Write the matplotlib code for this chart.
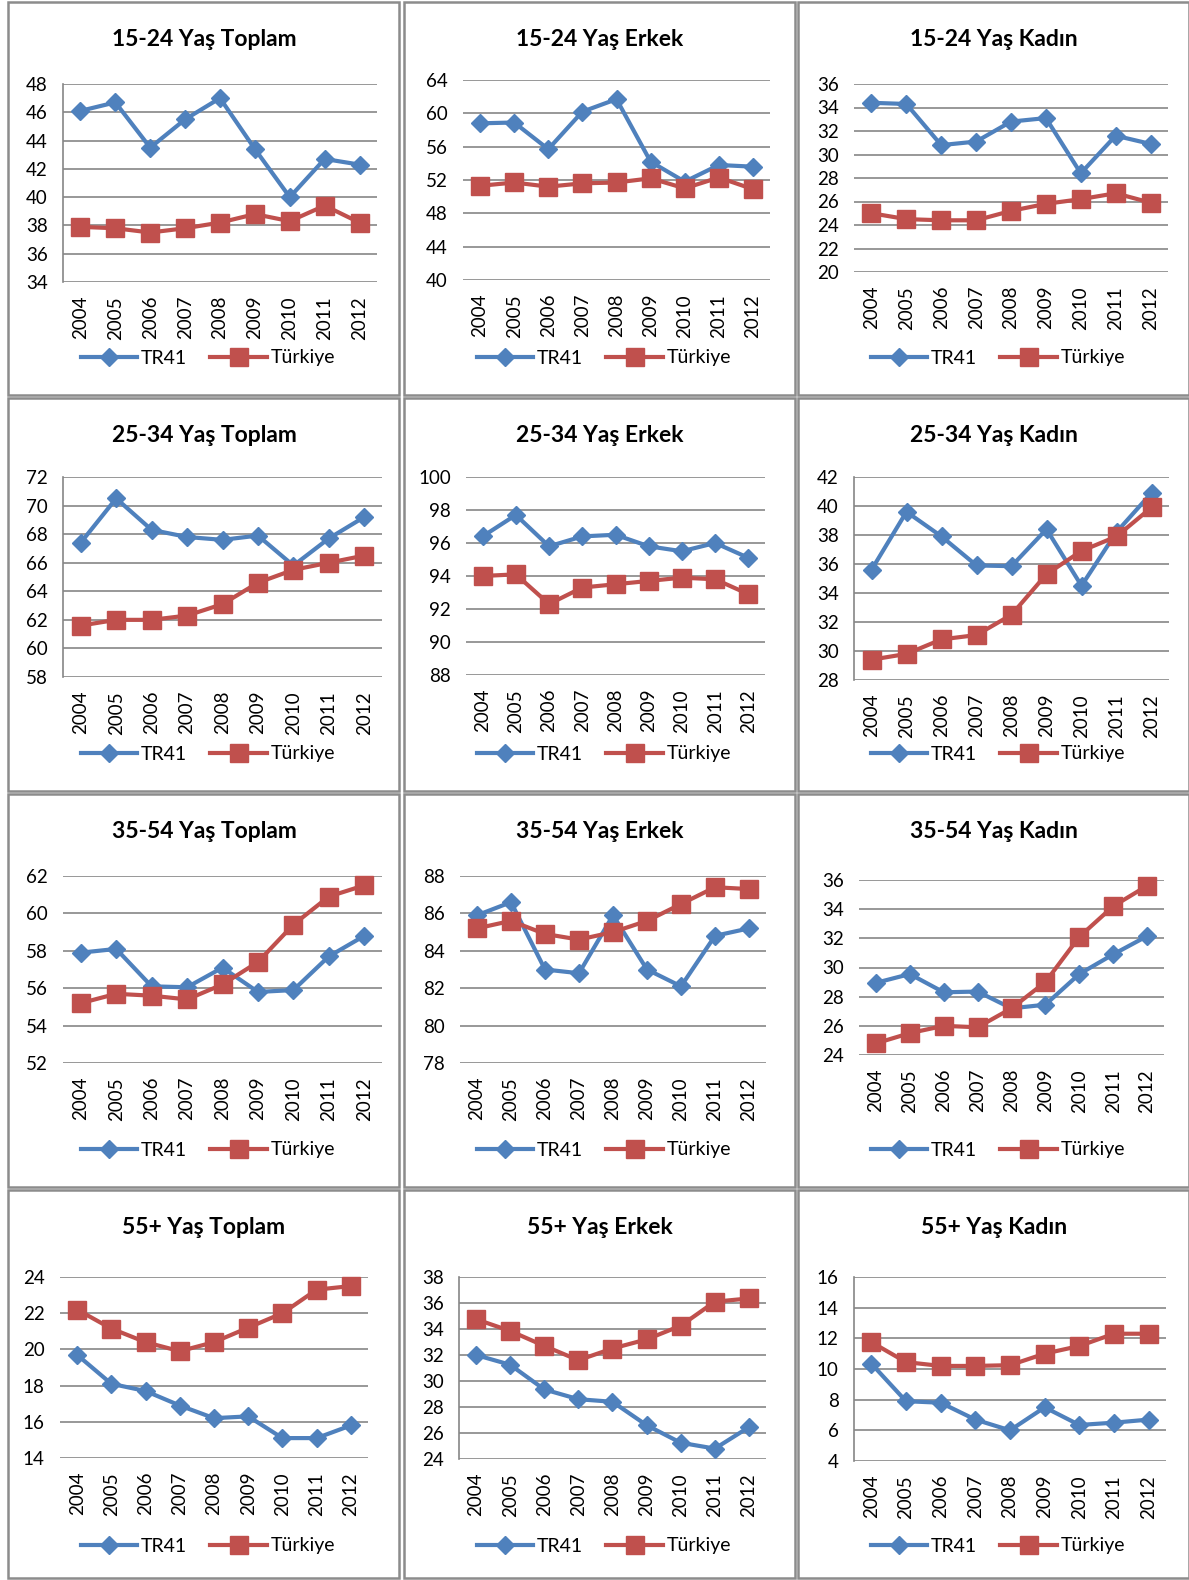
import matplotlib
matplotlib.use("Agg")
import matplotlib.pyplot as plt
from matplotlib.patches import Rectangle
from matplotlib.lines import Line2D

plt.rcParams["font.family"] = ["Lato", "DejaVu Sans"]

years = ["2004", "2005", "2006", "2007", "2008", "2009", "2010", "2011", "2012"]

# 15-24 yas
y1524_toplam_tr41 = [46.1, 46.7, 43.5, 45.5, 47.0, 43.4, 40.0, 42.7, 42.3]
y1524_toplam_tr = [37.9, 37.8, 37.5, 37.8, 38.2, 38.8, 38.3, 39.4, 38.2]
y1524_erkek_tr41 = [58.8, 58.9, 55.7, 60.2, 61.7, 54.2, 51.8, 53.8, 53.6]
y1524_erkek_tr = [51.3, 51.7, 51.2, 51.6, 51.7, 52.2, 51.0, 52.3, 50.9]
y1524_kadin_tr41 = [34.4, 34.3, 30.8, 31.1, 32.8, 33.1, 28.4, 31.6, 30.9]
y1524_kadin_tr = [25.0, 24.5, 24.4, 24.4, 25.2, 25.8, 26.2, 26.7, 25.9]

# 25-34 yas
y2534_toplam_tr41 = [67.4, 70.5, 68.3, 67.8, 67.6, 67.9, 65.8, 67.7, 69.2]
y2534_toplam_tr = [61.6, 62.0, 62.0, 62.3, 63.1, 64.6, 65.5, 66.0, 66.5]
y2534_erkek_tr41 = [96.4, 97.7, 95.8, 96.4, 96.5, 95.8, 95.5, 96.0, 95.1]
y2534_erkek_tr = [94.0, 94.1, 92.3, 93.3, 93.5, 93.7, 93.9, 93.8, 92.9]
y2534_kadin_tr41 = [35.6, 39.6, 37.9, 35.9, 35.85, 38.4, 34.5, 38.2, 40.9]
y2534_kadin_tr = [29.4, 29.8, 30.8, 31.1, 32.5, 35.3, 36.9, 37.9, 39.9]

# 35-54 yas
y3554_toplam_tr41 = [57.9, 58.1, 56.1, 56.05, 57.1, 55.8, 55.9, 57.7, 58.8]
y3554_toplam_tr = [55.2, 55.7, 55.6, 55.4, 56.2, 57.4, 59.4, 60.9, 61.5]
y3554_erkek_tr41 = [85.9, 86.6, 83.0, 82.8, 85.9, 83.0, 82.1, 84.8, 85.2]
y3554_erkek_tr = [85.2, 85.6, 84.9, 84.6, 85.0, 85.6, 86.5, 87.4, 87.3]
y3554_kadin_tr41 = [28.95, 29.55, 28.3, 28.35, 27.2, 27.45, 29.55, 30.9, 32.15]
y3554_kadin_tr = [24.8, 25.5, 26.0, 25.9, 27.2, 29.0, 32.1, 34.2, 35.6]

# 55+ yas
y55_toplam_tr41 = [19.7, 18.1, 17.7, 16.9, 16.2, 16.3, 15.1, 15.1, 15.8]
y55_toplam_tr = [22.2, 21.15, 20.4, 19.9, 20.4, 21.2, 22.0, 23.3, 23.5]
y55_erkek_tr41 = [32.0, 31.25, 29.35, 28.6, 28.4, 26.6, 25.25, 24.8, 26.45]
y55_erkek_tr = [34.75, 33.85, 32.7, 31.6, 32.5, 33.2, 34.25, 36.1, 36.35]
y55_kadin_tr41 = [10.35, 7.9, 7.8, 6.7, 6.0, 7.5, 6.35, 6.5, 6.7]
y55_kadin_tr = [11.75, 10.45, 10.2, 10.2, 10.25, 11.0, 11.5, 12.3, 12.3]

titles = [
    "15-24 Yaş Toplam", "15-24 Yaş Erkek", "15-24 Yaş Kadın",
    "25-34 Yaş Toplam", "25-34 Yaş Erkek", "25-34 Yaş Kadın",
    "35-54 Yaş Toplam", "35-54 Yaş Erkek", "35-54 Yaş Kadın",
    "55+ Yaş Toplam", "55+ Yaş Erkek", "55+ Yaş Kadın",
]
tr41_series = [
    y1524_toplam_tr41, y1524_erkek_tr41, y1524_kadin_tr41,
    y2534_toplam_tr41, y2534_erkek_tr41, y2534_kadin_tr41,
    y3554_toplam_tr41, y3554_erkek_tr41, y3554_kadin_tr41,
    y55_toplam_tr41, y55_erkek_tr41, y55_kadin_tr41,
]
tr_series = [
    y1524_toplam_tr, y1524_erkek_tr, y1524_kadin_tr,
    y2534_toplam_tr, y2534_erkek_tr, y2534_kadin_tr,
    y3554_toplam_tr, y3554_erkek_tr, y3554_kadin_tr,
    y55_toplam_tr, y55_erkek_tr, y55_kadin_tr,
]
# (min, max, step) of each value axis
yaxes = [
    (34, 48, 2), (40, 64, 4), (20, 36, 2),
    (58, 72, 2), (88, 100, 2), (28, 42, 2),
    (52, 62, 2), (78, 88, 2), (24, 36, 2),
    (14, 24, 2), (24, 38, 2), (4, 16, 2),
]

W, H = 1189, 1580
BLUE = "#4F81BD"
RED = "#C0504D"
GRID = "#868686"

fig = plt.figure(figsize=(W / 100, H / 100), dpi=100)

# plot areas in pixels: left, top, right, bottom
plot_px = [
    (63, 84, 377, 282), (463, 80, 770, 280), (854, 84, 1168, 272),
    (63, 477, 382, 677), (466, 477, 765, 675), (854, 477, 1169, 680),
    (63, 876, 382, 1063), (460, 876, 766, 1063), (859, 880, 1164, 1055),
    (60, 1277, 368, 1458), (459, 1277, 766, 1459), (854, 1277, 1166, 1461),
]
left_spine = [True, False, False, True, False, True,
              False, False, False, False, True, True]
col_x = [8, 404, 798]
row_y = [2, 398, 794, 1190]
row_h = [393, 393, 393, 388]
PANEL_W = 391


def to_fig(l, t, r, b):
    return [l / W, 1 - b / H, (r - l) / W, (b - t) / H]


x = list(range(len(years)))
for i in range(12):
    row, col = divmod(i, 3)
    px, py = col_x[col], row_y[row]

    fig.patches.append(Rectangle((px / W, 1 - (py + row_h[row]) / H), PANEL_W / W, row_h[row] / H,
                                 transform=fig.transFigure, fill=False,
                                 edgecolor="#8c8c8c", lw=1.8))

    ax = fig.add_axes(to_fig(*plot_px[i]))
    ax.plot(x, tr41_series[i], color=BLUE, lw=3, marker="D", ms=9.5,
            mec=BLUE, zorder=3, clip_on=False)
    ax.plot(x, tr_series[i], color=RED, lw=3, marker="s", ms=13,
            mec=RED, zorder=4, clip_on=False)

    lo, hi, step = yaxes[i]
    ax.set_ylim(lo, hi)
    ax.set_yticks(range(lo, hi + 1, step))
    ax.set_xlim(-0.5, len(years) - 0.5)
    ax.set_xticks(x)
    ax.set_xticklabels(years, rotation=90)
    ax.grid(axis="y", color=GRID, lw=1.2)
    ax.set_axisbelow(True)
    ax.tick_params(length=0, labelsize=13.5, colors="black")
    ax.tick_params(axis="y", pad=11)
    ax.tick_params(axis="x", pad=10)
    for s in ["top", "right", "bottom"]:
        ax.spines[s].set_visible(False)
    ax.spines["left"].set_visible(left_spine[i])
    ax.spines["left"].set_color(GRID)
    ax.spines["left"].set_linewidth(1.2)

    cx = (px + 196) / W
    fig.text(cx, 1 - (py + 37) / H, titles[i], ha="center", va="center",
             fontsize=16.5, fontweight="bold")

    handles = [
        Line2D([], [], color=BLUE, lw=3, marker="D", ms=9.5, mec=BLUE),
        Line2D([], [], color=RED, lw=3, marker="s", ms=13, mec=RED),
    ]
    ax.legend(handles, ["TR41", "Türkiye"], loc="center", ncol=2,
              bbox_to_anchor=(cx + 4 / W, 1 - (py + 356) / H),
              bbox_transform=fig.transFigure, frameon=False, fontsize=14,
              handlelength=2.9, handletextpad=0.2, columnspacing=1.2)

fig.savefig("out.png", dpi=100)
